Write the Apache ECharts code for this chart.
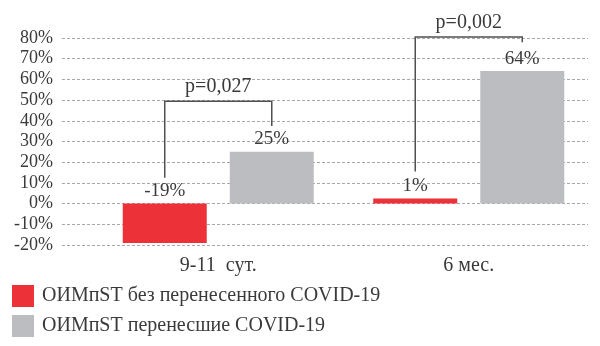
<!DOCTYPE html>
<html>
<head>
<meta charset="utf-8">
<script src="https://cdn.jsdelivr.net/npm/echarts@6/dist/echarts.min.js"></script>
<style>
  html, body { margin: 0; padding: 0; background: #ffffff; }
  #chart { width: 600px; height: 346px; }
</style>
</head>
<body>
<div id="chart"></div>
<script>
// Periods and the two patient groups
const periods = ['9-11  сут.', '6 мес.'];
const groupNames = ['ОИМпST без перенесенного COVID-19', 'ОИМпST перенесшие COVID-19'];
const noCovid = [-19, 1];
const covid = [25, 64];

// Y axis range (percent)
const yMin = -20;
const yMax = 80;
const yStep = 10;

// Significance brackets: period index, left leg end, right leg end, bracket top, text
const bracketPeriod = [0, 1];
const bracketLeftEnd = [12.5, 15.5];
const bracketRightEnd = [37.5, 78];
const bracketTop = [49.5, 80.5];
const bracketText = ['p=0,027', 'p=0,002'];

const FONT = '"Liberation Serif", "DejaVu Serif", serif';
const TEXT = '#3a3a3a';
const RED = '#ec3138';
const GRAY = '#bcbdc0';
const BAR_W = 84;
const BAR_GAP = 0.274;

const chart = echarts.init(document.getElementById('chart'), null, { renderer: 'canvas' });

const bracketData = bracketPeriod.map((p, i) => [p, bracketLeftEnd[i], bracketRightEnd[i], bracketTop[i], i]);

chart.setOption({
  animation: false,
  textStyle: { fontFamily: FONT },
  grid: [
    { left: 62, right: 12, top: 38, bottom: 101 },
    { left: 93, right: 6, top: 38, bottom: 101 }
  ],
  xAxis: [
    { gridIndex: 0, type: 'category', data: periods, show: false },
    {
      gridIndex: 1, type: 'category', data: periods,
      axisLine: { show: false }, axisTick: { show: false },
      axisLabel: { color: TEXT, fontFamily: FONT, fontSize: 20, margin: 11 }
    }
  ],
  yAxis: [
    {
      gridIndex: 0, type: 'value', min: yMin, max: yMax, interval: yStep,
      axisLine: { show: false }, axisTick: { show: false },
      axisLabel: { color: TEXT, fontFamily: FONT, fontSize: 18, margin: 9, formatter: '{value}%' },
      splitLine: { show: true, lineStyle: { color: '#a8a8a8', type: [3, 2], width: 1 } }
    },
    {
      gridIndex: 1, type: 'value', min: yMin, max: yMax, interval: yStep,
      show: false, splitLine: { show: false }
    }
  ],
  legend: {
    orient: 'vertical', left: 12, top: 285, padding: 0,
    itemWidth: 22, itemHeight: 22, itemGap: 8,
    icon: 'rect',
    data: groupNames,
    textStyle: { color: TEXT, fontFamily: FONT, fontSize: 20, padding: [0, 0, 0, 3] }
  },
  series: [
    {
      name: groupNames[0], type: 'bar', xAxisIndex: 1, yAxisIndex: 1,
      data: noCovid, barWidth: BAR_W, barGap: (BAR_GAP * 100) + '%', barMinHeight: 5,
      itemStyle: { color: RED },
      label: {
        show: true, position: 'top', distance: 3, color: TEXT,
        fontFamily: FONT, fontSize: 19, formatter: '{c}%'
      }
    },
    {
      name: groupNames[1], type: 'bar', xAxisIndex: 1, yAxisIndex: 1,
      data: covid, barWidth: BAR_W, barGap: (BAR_GAP * 100) + '%',
      itemStyle: { color: GRAY },
      label: {
        show: true, position: 'top', distance: 3, color: TEXT,
        fontFamily: FONT, fontSize: 19, formatter: '{c}%'
      }
    },
    {
      type: 'custom', xAxisIndex: 1, yAxisIndex: 1, silent: true, z: 5,
      data: bracketData,
      renderItem: function (params, api) {
        const cat = api.value(0);
        const center = api.coord([cat, 0])[0];
        const half = (BAR_W + BAR_W * BAR_GAP) / 2;
        const xl = center - half;
        const xr = center + half;
        const yl = api.coord([cat, api.value(1)])[1];
        const yr = api.coord([cat, api.value(2)])[1];
        const yt = api.coord([cat, api.value(3)])[1];
        const style = { stroke: '#505050', lineWidth: 1.5, fill: null };
        return {
          type: 'group',
          children: [
            { type: 'polyline', shape: { points: [[xl, yl], [xl, yt], [xr, yt], [xr, yr]] }, style: style },
            {
              type: 'text',
              style: {
                text: bracketText[api.value(4)], x: center, y: yt - 4,
                align: 'center', verticalAlign: 'bottom',
                fill: TEXT, font: '20px ' + FONT
              }
            }
          ]
        };
      }
    }
  ]
});
</script>
</body>
</html>
